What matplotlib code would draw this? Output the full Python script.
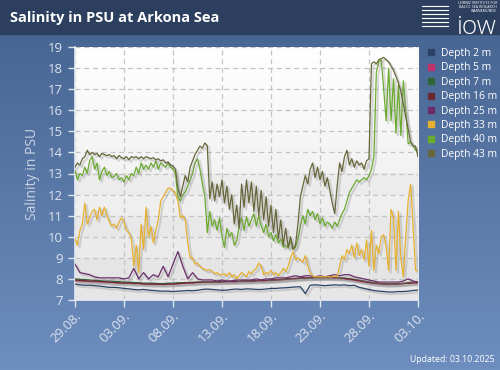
import numpy as np
import matplotlib
matplotlib.use('Agg')
import matplotlib.pyplot as plt
import matplotlib.dates as mdates
import matplotlib.patheffects as pe
from matplotlib.patches import Rectangle
from matplotlib.lines import Line2D
import datetime as dt

plt.rcParams['font.family'] = ['Open Sans', 'DejaVu Sans']

# ---------------- data ----------------
title = "Salinity in PSU at Arkona Sea"
ylabel = "Salinity in PSU"
updated = "Updated: 03.10.2025"
start = dt.datetime(2025, 8, 29)
end = dt.datetime(2025, 10, 3)
tick_labels = ["29.08.", "03.09.", "08.09.", "13.09.", "18.09.", "23.09.", "28.09.", "03.10."]
y_ticks = [7, 8, 9, 10, 11, 12, 13, 14, 15, 16, 17, 18, 19]

series_names = ["Depth 2 m", "Depth 5 m", "Depth 7 m", "Depth 16 m",
                "Depth 25 m", "Depth 33 m", "Depth 40 m", "Depth 43 m"]
series_colors = ["#2b4466", "#c0306a", "#2f6637", "#6b2a30",
                 "#6a2d6a", "#e6b030", "#6aaa2e", "#66663a"]

# 12-hourly values
depth_2 = [7.75, 7.72, 7.7, 7.7, 7.68, 7.66, 7.63, 7.6, 7.6, 7.58, 7.55, 7.53,
           7.5, 7.48, 7.5, 7.47, 7.45, 7.43, 7.42, 7.42, 7.4, 7.42, 7.43, 7.45,
           7.44, 7.46, 7.5, 7.52, 7.5, 7.48, 7.46, 7.47, 7.5, 7.52, 7.5, 7.53,
           7.52, 7.5, 7.5, 7.52, 7.55, 7.55, 7.57, 7.58, 7.6, 7.62, 7.63, 7.3,
           7.7, 7.72, 7.7, 7.68, 7.7, 7.72, 7.7, 7.72, 7.68, 7.7, 7.6, 7.55,
           7.5, 7.45, 7.42, 7.4, 7.38, 7.38, 7.4, 7.4, 7.42, 7.45, 7.47]
depth_5 = [7.9, 7.9, 7.88, 7.87, 7.86, 7.85, 7.84, 7.83, 7.82, 7.8, 7.8, 7.79,
           7.78, 7.77, 7.76, 7.75, 7.74, 7.74, 7.73, 7.74, 7.75, 7.76, 7.78, 7.8,
           7.8, 7.82, 7.83, 7.83, 7.83, 7.84, 7.85, 7.86, 7.86, 7.86, 7.87, 7.88,
           7.88, 7.89, 7.9, 7.9, 7.92, 7.93, 7.95, 7.97, 7.99, 8.0, 8.02, 8.03,
           8.04, 8.05, 8.05, 8.05, 8.05, 8.04, 8.03, 8.0, 7.97, 7.93, 7.89, 7.85,
           7.81, 7.78, 7.76, 7.74, 7.73, 7.74, 7.75, 7.77, 7.79, 7.8, 7.8]
depth_7 = [8.0, 7.98, 7.97, 7.95, 7.93, 7.92, 7.9, 7.9, 7.88, 7.87, 7.85, 7.85,
           7.83, 7.82, 7.8, 7.8, 7.8, 7.78, 7.78, 7.8, 7.8, 7.82, 7.82, 7.83,
           7.84, 7.85, 7.86, 7.87, 7.87, 7.88, 7.88, 7.88, 7.9, 7.9, 7.9, 7.9,
           7.9, 7.92, 7.92, 7.93, 7.94, 7.95, 7.96, 7.98, 8.0, 8.02, 8.03, 8.05,
           8.05, 8.05, 8.05, 8.06, 8.06, 8.06, 8.05, 8.04, 8.0, 7.98, 7.94, 7.9,
           7.86, 7.83, 7.8, 7.78, 7.77, 7.77, 7.78, 7.8, 7.82, 7.85, 7.85]
depth_16 = [7.95, 7.93, 7.92, 7.9, 7.9, 7.88, 7.87, 7.85, 7.83, 7.82, 7.8, 7.82,
            7.78, 7.8, 7.76, 7.76, 7.75, 7.76, 7.74, 7.76, 7.76, 7.78, 7.8, 7.82,
            7.82, 7.84, 7.85, 7.86, 7.85, 7.86, 7.86, 7.88, 7.88, 7.88, 7.9, 7.9,
            7.9, 7.92, 7.93, 7.93, 7.95, 7.96, 7.98, 8.0, 8.02, 8.03, 8.05, 8.06,
            8.06, 8.07, 8.08, 8.08, 8.08, 8.06, 8.05, 8.02, 8.0, 7.96, 7.92, 7.88,
            7.84, 7.8, 7.78, 7.76, 7.75, 7.76, 7.76, 7.78, 7.8, 7.82, 7.82]
depth_25 = [8.7, 8.3, 8.25, 8.2, 8.1, 8.05, 8.05, 8.05, 8.05, 8.05, 8.0, 8.05,
            8.5, 8.0, 8.3, 8.0, 8.2, 8.1, 8.6, 8.1, 8.7, 9.3, 8.6, 8.0,
            8.3, 8.0, 7.95, 7.95, 7.95, 7.9, 7.95, 7.9, 7.9, 7.95, 7.95, 7.95,
            7.95, 8.0, 7.95, 8.0, 8.0, 8.05, 8.05, 8.05, 8.1, 8.15, 8.1, 8.15,
            8.15, 8.1, 8.15, 8.1, 8.15, 8.2, 8.15, 8.2, 8.2, 8.1, 8.05, 8.0,
            7.95, 7.9, 7.85, 7.85, 7.85, 7.85, 7.85, 7.9, 8.0, 7.9, 7.85]

# 6-hourly values
depth_33 = [9.9, 9.6, 10.3, 10.6, 11.6, 10.6, 10.9, 11.2, 11.3, 10.8, 11.4, 11.0,
            11.4, 11.0, 10.7, 10.5, 10.6, 10.4, 10.7, 10.9, 10.7, 10.3, 10.2, 9.9,
            8.6, 9.6, 8.3, 10.6, 9.4, 11.4, 10.0, 10.5, 9.7, 10.3, 10.8, 11.7,
            11.9, 12.1, 12.3, 12.3, 12.2, 12.05, 11.7, 10.9, 11.0, 10.8, 9.7, 9.0,
            9.0, 8.7, 8.75, 8.6, 8.5, 8.45, 8.4, 8.45, 8.35, 8.25, 8.3, 8.2,
            8.2, 8.25, 8.15, 8.3, 8.1, 8.2, 8.0, 8.15, 8.3, 8.2, 8.1, 8.35,
            8.25, 8.4, 8.5, 8.75, 8.6, 8.2, 8.3, 8.25, 8.4, 8.2, 8.3, 8.15,
            8.3, 8.5, 8.35, 8.6, 9.0, 9.3, 8.9, 9.0, 8.9, 8.8, 9.1, 8.6,
            8.27, 8.15, 8.1, 8.1, 8.1, 8.1, 8.1, 8.1, 8.1, 8.1, 8.15, 8.1,
            8.6, 9.1, 8.9, 9.4, 9.2, 9.6, 9.0, 9.7, 9.1, 9.4, 8.9, 9.85,
            8.6, 10.3, 8.4, 9.6, 9.2, 10.0, 10.1, 9.5, 8.4, 11.3, 10.9, 8.4,
            11.2, 9.0, 8.1, 10.0, 11.75, 12.5, 10.5, 8.4, 8.4]
depth_40 = [13.15, 12.7, 13.0, 12.9, 13.3, 13.0, 13.6, 13.8, 13.2, 13.5, 12.7, 13.1,
            13.3, 12.9, 13.1, 12.8, 12.85, 13.0, 12.7, 12.8, 12.6, 12.9, 12.7, 13.0,
            12.9, 13.3, 13.0, 13.5, 13.2, 13.4, 13.2, 13.5, 13.3, 13.6, 13.2, 13.5,
            13.4, 13.3, 13.5, 13.3, 13.2, 13.0, 11.9, 11.7, 12.0, 12.1, 12.4, 12.7,
            13.0, 13.5, 13.7, 13.2, 12.5, 11.9, 10.2, 11.2, 10.5, 10.8, 10.3, 10.9,
            10.0, 9.5, 10.4, 10.0, 10.2, 9.6, 9.8, 10.5, 10.9, 10.3, 10.95, 10.5,
            10.8, 11.1, 10.5, 11.0, 10.5, 10.2, 10.6, 10.0, 10.2, 9.8, 10.1, 9.7,
            9.9, 9.5, 9.6, 9.45, 9.8, 9.4, 9.5, 9.9, 10.5, 11.0, 10.6, 11.3,
            11.0, 11.2, 10.8, 11.1, 10.6, 10.9, 10.5, 10.7, 10.6, 10.4, 10.7, 10.5,
            10.8, 11.1, 11.3, 11.7, 12.1, 12.3, 12.5, 12.7, 12.6, 12.7, 12.8, 12.7,
            12.9, 13.2, 13.8, 17.8, 18.3, 18.4, 17.0, 15.5, 18.0, 15.5, 17.5, 14.9,
            17.2, 14.8, 17.4, 16.0, 14.4, 14.5, 14.3, 14.1, 14.1]
depth_43 = [13.3, 13.5, 13.4, 13.7, 13.8, 14.1, 13.9, 14.0, 13.9, 13.95, 13.8, 13.95,
            13.9, 13.85, 13.9, 13.8, 13.85, 13.7, 13.85, 13.75, 13.7, 13.8, 13.65, 13.8,
            13.75, 13.8, 13.7, 13.8, 13.7, 13.8, 13.75, 13.7, 13.75, 13.65, 13.7, 13.6,
            13.65, 13.5, 13.55, 13.4, 13.35, 13.2, 12.3, 11.9, 12.4, 12.9, 12.6, 13.3,
            13.6, 13.9, 14.1, 14.3, 14.2, 14.45, 14.3, 11.8, 12.6, 11.7, 12.5, 11.9,
            12.7, 11.6, 12.4, 11.3, 12.0, 10.6, 11.5, 10.4, 12.5, 11.4, 12.7, 11.6,
            12.6, 11.2, 12.4, 11.0, 12.2, 10.8, 11.9, 10.5, 11.5, 10.2, 11.3, 9.9,
            10.8, 9.6, 10.4, 9.5, 10.0, 9.4, 9.6, 10.6, 11.9, 12.4, 12.9, 12.5,
            13.2, 13.5, 12.8, 13.3, 12.7, 13.1, 12.4, 12.8, 12.2, 11.6, 11.1, 12.4,
            13.5, 13.1, 13.8, 14.1, 13.4, 13.7, 13.3, 13.6, 13.4, 13.5, 13.2, 13.6,
            13.7, 18.2, 18.3, 18.2, 18.4, 18.45, 18.5, 18.4, 18.3, 18.1, 17.9, 17.6,
            17.3, 16.9, 16.3, 15.7, 15.1, 14.5, 14.3, 14.3, 13.8]

series_values = [depth_2, depth_5, depth_7, depth_16, depth_25, depth_33, depth_40, depth_43]

# ---------------- figure ----------------
W, H = 500, 370
fig = plt.figure(figsize=(W / 100, H / 100), dpi=100)

# page background gradient
bg = fig.add_axes([0, 0, 1, 1], zorder=-10)
grad = np.linspace(0, 1, 256).reshape(-1, 1)
c_top = np.array([0x44, 0x62, 0x8e]) / 255
c_bot = np.array([0x6e, 0x8e, 0xbf]) / 255
img = c_top[None, None, :] * (1 - grad[:, :, None]) + c_bot[None, None, :] * grad[:, :, None]
bg.imshow(img, aspect='auto', extent=[0, 1, 0, 1])
bg.add_patch(Rectangle((0, 1 - 34 / H), 1, 34 / H, color="#2c3f5e", zorder=2))
bg.set_xlim(0, 1)
bg.set_ylim(0, 1)
bg.axis('off')

fig.text(10 / W, 1 - 18 / H, title, color='white', fontsize=10.5, fontweight='bold',
         va='center', ha='left')
# logo (text approximation)
fig.text(497 / W, 1 - 27 / H, "iow", color='white', fontsize=19, va='center', ha='right',
         fontweight='light')
fig.text(497 / W, 1 - 7 / H, "LEIBNIZ INSTITUTE FOR\nBALTIC SEA RESEARCH\nWARNEMÜNDE",
         color='white', fontsize=2.6, va='center', ha='right', linespacing=1.1)
for yy in [6, 10, 14, 18, 22, 26]:
    fig.add_artist(Line2D([422 / W, 448 / W], [1 - yy / H, 1 - yy / H], color='white', lw=0.8))

fig.text(495 / W, 1 - 360 / H, updated, color='white', fontsize=6.3, ha='right', va='center')

# ---------------- plot ----------------
ax = fig.add_axes([75 / W, 1 - 300 / H, (418 - 75) / W, (300 - 47) / H])
ax.set_facecolor('white')
pgrad = np.linspace(0, 1, 256).reshape(-1, 1)
ax.imshow(pgrad, cmap=matplotlib.colors.LinearSegmentedColormap.from_list(
    'p', ['#ffffff', '#e6e6e6']), aspect='auto', extent=[0, 1, 0, 1],
    transform=ax.transAxes, zorder=0, vmin=0, vmax=1, origin='upper')
for lo in [8, 10, 12]:
    ax.axhspan(lo, lo + 1, color='#d8d8d8', alpha=0.2, zorder=0.5, lw=0)

t_half = [start + dt.timedelta(hours=12 * i) for i in range(len(depth_2))]
t_quarter = [start + dt.timedelta(hours=6 * i) for i in range(len(depth_33))]

for name, col, vals in zip(series_names, series_colors, series_values):
    tt = t_half if len(vals) == len(t_half) else t_quarter
    ax.plot(tt, vals, color=col, lw=0.9, zorder=3,
            path_effects=[pe.SimpleLineShadow(offset=(1.5, -1.5), shadow_color='#888888',
                                              alpha=0.3, linewidth=1.5),
                          pe.Normal()])

ax.set_xlim(start, end)
ax.set_ylim(7, 19)
ax.set_yticks(y_ticks)
ax.set_yticklabels([str(v) for v in y_ticks])
xt = [start + dt.timedelta(days=5 * i) for i in range(len(tick_labels))]
ax.set_xticks(xt)
ax.set_xticklabels(tick_labels, rotation=45, ha='right', rotation_mode='anchor')

ax.grid(True, color='#c4c4c4', lw=0.9, linestyle=(0, (4, 3)), zorder=1)
ax.set_axisbelow(True)
for s in ['top', 'right']:
    ax.spines[s].set_visible(False)
for s in ['left', 'bottom']:
    ax.spines[s].set_color('#e8ecf2')
    ax.spines[s].set_linewidth(1.2)
ax.tick_params(axis='both', colors='#e0e6ef', labelcolor='#dde3ee', labelsize=9.5,
               length=5, width=1, direction='out')
ax.tick_params(axis='x', pad=2)
ax.set_ylabel(ylabel, color='#c8d3e4', fontsize=10, labelpad=6)

handles = [Line2D([], [], marker='s', linestyle='none', markersize=5,
                  markerfacecolor=c, markeredgecolor=c) for c in series_colors]
fig.legend(handles, series_names, loc='upper left',
           bbox_to_anchor=(427 / W, 1 - 48 / H), frameon=False, fontsize=7.4,
           labelcolor='white', handlelength=0.7, handletextpad=0.7,
           labelspacing=0.33, borderaxespad=0, borderpad=0)

fig.savefig('out.png', dpi=100)
